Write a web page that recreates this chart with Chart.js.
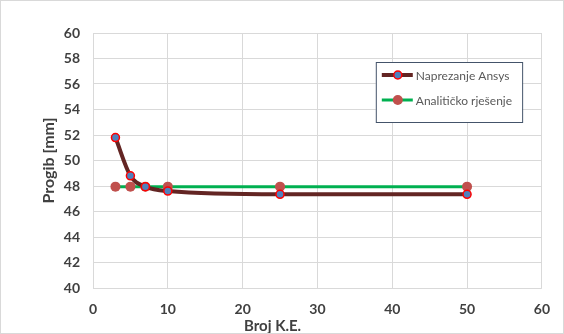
<!DOCTYPE html>
<html>
<head>
<meta charset="utf-8">
<script src="https://cdn.jsdelivr.net/npm/chart.js@4"></script>
<style>
  body { margin: 0; background: #fff; }
  #wrap { width: 564px; height: 334px; box-sizing: border-box; border: 1px solid #d9d9d9; position: relative; }
</style>
</head>
<body>
<div id="wrap"><canvas id="myChart"></canvas></div>
<script>
var brojKE = [3, 5, 7, 10, 25, 50];
var ansys = [51.8, 48.8, 47.95, 47.6, 47.35, 47.35];
var analiticko = [47.95, 47.95, 47.95, 47.95, 47.95, 47.95];
var yTicks = [40, 42, 44, 46, 48, 50, 52, 54, 56, 58, 60];
var xTicks = [0, 10, 20, 30, 40, 50, 60];

function pts(xs, ys) {
  return xs.map(function(x, i) { return { x: x, y: ys[i] }; });
}

var fontFam = 'Lato, "Open Sans", sans-serif';

// legend box inside the plot, with a line + marker sample for each series
var boxLegend = {
  id: 'boxLegend',
  afterDraw: function(chart) {
    var ctx = chart.ctx;
    var a = chart.chartArea;
    var x0 = a.left + (a.right - a.left) * 0.63;
    var x1 = a.left + (a.right - a.left) * 0.956;
    var y0 = a.top + 29;
    var h = 60;
    ctx.save();
    ctx.fillStyle = '#fff';
    ctx.fillRect(x0, y0, x1 - x0, h);
    ctx.strokeStyle = '#44546a';
    ctx.lineWidth = 1;
    ctx.strokeRect(x0 + 0.5, y0 + 0.5, x1 - x0, h);
    chart.data.datasets.forEach(function(ds, i) {
      var y = y0 + 13 + i * 25;
      ctx.strokeStyle = ds.borderColor;
      ctx.lineWidth = ds.borderWidth;
      ctx.beginPath();
      ctx.moveTo(x0 + 6, y);
      ctx.lineTo(x0 + 37, y);
      ctx.stroke();
      ctx.beginPath();
      ctx.arc(x0 + 22, y, ds.pointRadius, 0, Math.PI * 2);
      ctx.fillStyle = ds.pointBackgroundColor;
      ctx.fill();
      if (ds.pointBorderWidth) {
        ctx.lineWidth = ds.pointBorderWidth;
        ctx.strokeStyle = ds.pointBorderColor;
        ctx.stroke();
      }
      ctx.fillStyle = '#595959';
      ctx.font = '12px ' + fontFam;
      ctx.textBaseline = 'middle';
      ctx.textAlign = 'left';
      ctx.fillText(ds.label, x0 + 40, y + 1);
    });
    // x axis title, placed like the original (left of centre)
    ctx.fillStyle = '#404040';
    ctx.font = 'bold 15px ' + fontFam;
    ctx.textAlign = 'center';
    ctx.textBaseline = 'middle';
    ctx.fillText('Broj K.E.', a.left + (a.right - a.left) * 0.4, a.bottom + 38);
    ctx.restore();
  }
};

var ctx = document.getElementById('myChart').getContext('2d');
var myChart = new Chart(ctx, {
  type: 'line',
  data: {
    datasets: [{
      label: 'Naprezanje Ansys',
      data: pts(brojKE, ansys),
      borderColor: '#632523',
      borderWidth: 4,
      pointBackgroundColor: '#4f81bd',
      pointBorderColor: '#ff0000',
      pointBorderWidth: 1.5,
      pointRadius: 4,
      tension: 0.3,
      cubicInterpolationMode: 'monotone'
    }, {
      label: 'Analitičko rješenje',
      data: pts(brojKE, analiticko),
      borderColor: '#00b050',
      borderWidth: 3,
      pointBackgroundColor: '#c0504d',
      pointBorderColor: '#c0504d',
      pointBorderWidth: 0,
      pointRadius: 5
    }]
  },
  options: {
    responsive: true,
    maintainAspectRatio: false,
    animation: false,
    layout: { padding: { left: 0, right: 18, top: 32, bottom: 0 } },
    plugins: {
      legend: { display: false },
      tooltip: { enabled: false }
    },
    scales: {
      x: {
        type: 'linear',
        min: 0, max: 60,
        afterBuildTicks: function(s) { s.ticks = xTicks.map(function(v) { return { value: v }; }); },
        afterFit: function(s) { s.height = 45; },
        grid: { color: '#d9d9d9', drawTicks: false },
        border: { display: false },
        ticks: { padding: 13, color: '#404040', font: { family: fontFam, size: 14, weight: 'bold' } }
      },
      y: {
        min: 40, max: 60,
        afterBuildTicks: function(s) { s.ticks = yTicks.map(function(v) { return { value: v }; }); },
        afterFit: function(s) { s.width = 92; },
        grid: { color: '#d9d9d9', drawTicks: false },
        border: { display: false },
        ticks: { padding: 13, color: '#404040', font: { family: fontFam, size: 14, weight: 'bold' } },
        title: { display: true, text: 'Progib [mm]', color: '#404040', padding: { top: 38, bottom: 0 }, font: { family: fontFam, size: 16, weight: 'bold' } }
      }
    }
  },
  plugins: [boxLegend]
});
</script>
</body>
</html>
